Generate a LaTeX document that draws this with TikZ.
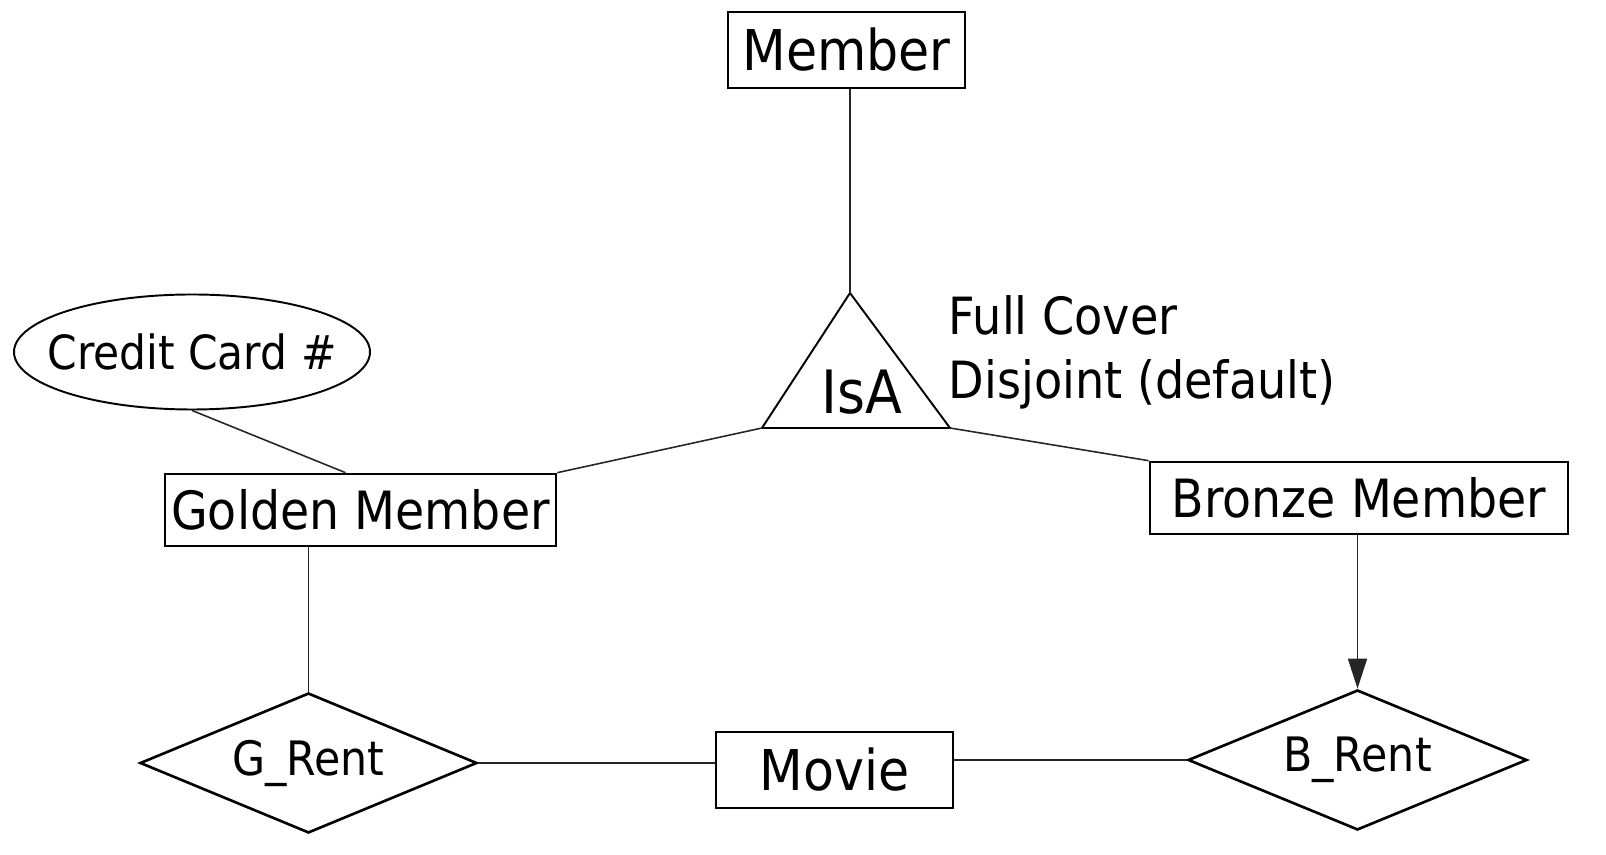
\documentclass[tikz,border=0pt]{standalone}
\usepackage{fontspec}
\setmainfont{DejaVu Sans}[FakeStretch=0.9]
\usetikzlibrary{shapes.geometric, arrows.meta}

\newcommand{\fs}[1]{\fontsize{#1}{1.25\dimexpr#1\relax}\selectfont}

\begin{document}
\begin{tikzpicture}[
    entity/.style={draw, line width=0.75pt, rectangle, inner sep=0pt},
    attrib/.style={draw, line width=0.55pt, ellipse, inner sep=0pt},
    rel/.style={draw, line width=0.75pt, diamond, aspect=2.4, inner sep=0pt},
    conn/.style={line width=0.45pt, black!85}
]
    \useasboundingbox (0,0) rectangle (16.06,8.55);

    \node[entity, minimum width=2.37cm, minimum height=0.76cm, font=\fs{16pt}] (member) at (8.465,8.05) {Member};

    \coordinate (isatop) at (8.50,5.62);
    \coordinate (isaleft) at (7.62,4.27);
    \coordinate (isaright) at (9.50,4.27);
    \draw[line width=0.55pt] (isatop) -- (isaleft) -- (isaright) -- cycle;
    \node[font=\fs{17pt}] (isa) at (8.62,4.63) {IsA};
    \node[anchor=west, inner sep=0pt, align=left, font=\fs{14.6pt}] (cover) at (9.48,5.03) {Full Cover\\Disjoint (default)};

    \node[attrib, minimum width=3.56cm, minimum height=1.15cm] (credit) at (1.92,5.03) {};
    \node[font=\fs{13.4pt}] (creditlbl) at (credit) {Credit Card \#};
    \node[entity, minimum width=3.91cm, minimum height=0.72cm, font=\fs{15pt}] (golden) at (3.605,3.45) {Golden Member};
    \node[entity, minimum width=4.18cm, minimum height=0.72cm, font=\fs{15pt}] (bronze) at (13.59,3.57) {Bronze Member};

    \node[rel, minimum width=3.37cm, minimum height=1.40cm, font=\fs{13.5pt}] (grent) at (3.085,0.92) {G\_Rent};
    \node[entity, minimum width=2.37cm, minimum height=0.76cm, font=\fs{16pt}] (movie) at (8.345,0.85) {Movie};
    \node[rel, minimum width=3.39cm, minimum height=1.40cm, font=\fs{13.5pt}] (brent) at (13.575,0.95) {B\_Rent};

    \draw[conn] (member.south -| isatop) -- (isatop);
    \draw[conn] (isaleft) -- (golden.north east);
    \draw[conn] (isaright) -- (bronze.north west);
    \draw[conn] (credit.south) -- ([xshift=-1.5mm]golden.north);
    \draw[conn] (grent.north |- golden.south) -- (grent.north);
    \draw[conn] (grent.east) -- (grent.east -| movie.west);
    \draw[conn] (brent.west -| movie.east) -- (brent.west);
    \draw[conn, -{Triangle[length=3mm, width=1.9mm]}] (brent.north |- bronze.south) -- (brent.north);
\end{tikzpicture}
\end{document}
